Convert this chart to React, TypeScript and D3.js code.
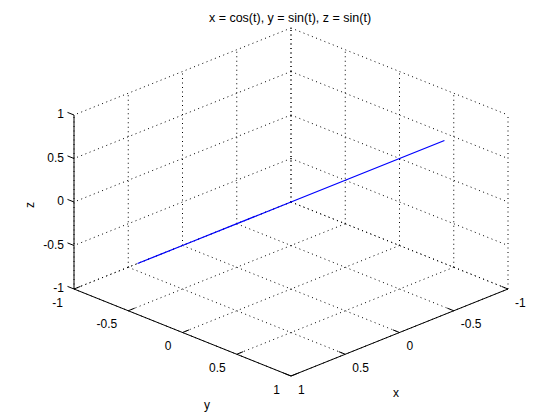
import React from "react";
import * as d3 from "d3";

const titleText = "x = cos(t), y = sin(t), z = sin(t)";
const tickValues = [-1, -0.5, 0, 0.5, 1];
const tickLabels = ["-1", "-0.5", "0", "0.5", "1"];
// curve samples (x = cos t, y = sin t, z = sin t) at t = k*pi/4
const curveX = [1, 0.7071, 0, -0.7071, -1, -0.7071, 0, 0.7071, 1];
const curveY = [0, 0.7071, 1, 0.7071, 0, -0.7071, -1, -0.7071, 0];
const curveZ = [0, 0.7071, 1, 0.7071, 0, -0.7071, -1, -0.7071, 0];

const W = 560;
const H = 420;
const CX = 291;
const CY = 202;
// along-axis scales (pixel offsets)
const sxH = d3.scaleLinear().domain([-1, 1]).range([108.5, -108.5]);
const sxV = d3.scaleLinear().domain([-1, 1]).range([-43.5, 43.5]);
const syH = d3.scaleLinear().domain([-1, 1]).range([-108.5, 108.5]);
const syV = d3.scaleLinear().domain([-1, 1]).range([-43.5, 43.5]);
const szV = d3.scaleLinear().domain([-1, 1]).range([87, -87]);

function proj(x: number, y: number, z: number): [number, number] {
  return [CX + sxH(x) + syH(y), CY + sxV(x) + syV(y) + szV(z)];
}

const FONT = "'Liberation Sans', Arial, Helvetica, sans-serif";

export default function App() {
  const grid: { a: [number, number]; b: [number, number] }[] = [];
  tickValues.forEach((v) => {
    // floor z=-1
    grid.push({ a: proj(v, -1, -1), b: proj(v, 1, -1) });
    grid.push({ a: proj(-1, v, -1), b: proj(1, v, -1) });
    // wall y=-1
    grid.push({ a: proj(v, -1, -1), b: proj(v, -1, 1) });
    grid.push({ a: proj(-1, -1, v), b: proj(1, -1, v) });
    // wall x=-1
    grid.push({ a: proj(-1, v, -1), b: proj(-1, v, 1) });
    grid.push({ a: proj(-1, -1, v), b: proj(-1, 1, v) });
  });

  const line = d3
    .line<number>()
    .x((i) => proj(curveX[i], curveY[i], curveZ[i])[0])
    .y((i) => proj(curveX[i], curveY[i], curveZ[i])[1]);

  const tickLen = 7;
  const ux = [108.5 / 116.9, -43.5 / 116.9]; // -ex direction
  const uy = [-108.5 / 116.9, -43.5 / 116.9]; // -ey direction

  const zAxisA = proj(1, -1, -1);
  const zAxisB = proj(1, -1, 1);
  const yAxisB = proj(1, 1, -1);
  const xAxisB = proj(-1, 1, -1);

  return (
    <svg
      width={W}
      height={H}
      style={{ position: "absolute", left: 0, top: 0, background: "#fff" }}
    >
      <rect x={0} y={0} width={W} height={H} fill="#fff" />
      <g stroke="#000" strokeWidth={1} strokeDasharray="1 3.5" fill="none">
        {grid.map((g, i) => (
          <line key={i} x1={g.a[0]} y1={g.a[1]} x2={g.b[0]} y2={g.b[1]} />
        ))}
      </g>
      {/* axes */}
      <g stroke="#000" strokeWidth={1} fill="none">
        <line x1={zAxisA[0]} y1={zAxisA[1]} x2={zAxisB[0]} y2={zAxisB[1]} />
        <line x1={zAxisA[0]} y1={zAxisA[1]} x2={yAxisB[0]} y2={yAxisB[1]} />
        <line x1={yAxisB[0]} y1={yAxisB[1]} x2={xAxisB[0]} y2={xAxisB[1]} />
        {tickValues.map((v, i) => {
          const pz = proj(1, -1, v);
          const py = proj(1, v, -1);
          const px = proj(v, 1, -1);
          return (
            <g key={i}>
              <line x1={pz[0]} y1={pz[1]} x2={pz[0] + uy[0] * tickLen} y2={pz[1] + uy[1] * tickLen} />
              <line x1={py[0]} y1={py[1]} x2={py[0] + ux[0] * tickLen} y2={py[1] + ux[1] * tickLen} />
              <line x1={px[0]} y1={px[1]} x2={px[0] + uy[0] * tickLen} y2={px[1] + uy[1] * tickLen} />
            </g>
          );
        })}
      </g>
      {/* curve */}
      <path
        d={line(d3.range(curveX.length)) || ""}
        stroke="#0000ff"
        strokeWidth={1.3}
        fill="none"
      />
      {/* tick labels */}
      <g fontFamily={FONT} fontSize={12} fill="#000">
        {tickValues.map((v, i) => {
          const pz = proj(1, -1, v);
          const py = proj(1, v, -1);
          const px = proj(v, 1, -1);
          return (
            <g key={i}>
              <text x={pz[0] - 10} y={pz[1] - 1} textAnchor="end" dominantBaseline="central">
                {tickLabels[i]}
              </text>
              <text x={py[0] - 11} y={py[1] + 13.5} textAnchor="end" dominantBaseline="central">
                {tickLabels[i]}
              </text>
              <text x={px[0] + 7} y={px[1] + 13.5} textAnchor="start" dominantBaseline="central">
                {tickLabels[i]}
              </text>
            </g>
          );
        })}
        <text x={396} y={393} textAnchor="middle" dominantBaseline="central">x</text>
        <text x={207} y={405} textAnchor="middle" dominantBaseline="central">y</text>
        <text
          x={30}
          y={205}
          textAnchor="middle"
          dominantBaseline="central"
          transform="rotate(-90 30 205)"
        >
          z
        </text>
        <text x={290} y={18} textAnchor="middle" dominantBaseline="central" fontSize={12.5}>
          {titleText}
        </text>
      </g>
    </svg>
  );
}
